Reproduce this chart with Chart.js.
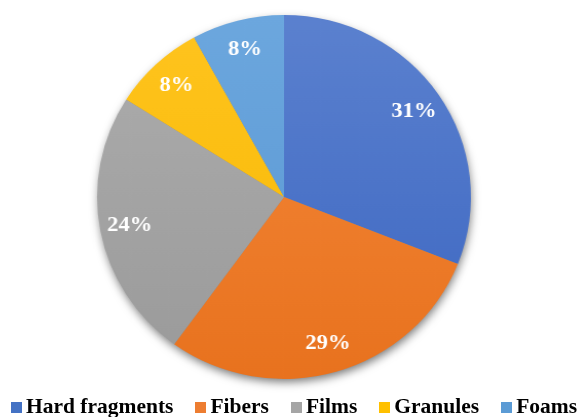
<!DOCTYPE html>
<html>
<head>
<meta charset="utf-8">
<script src="https://cdn.jsdelivr.net/npm/chart.js@4/dist/chart.umd.min.js"></script>
<style>
  html, body { margin: 0; padding: 0; background: #ffffff; }
  #wrap { position: relative; width: 578px; height: 417px; overflow: hidden; }
  #wrap canvas {
    position: absolute; left: 0; top: 0;
    transform: scaleX(1.027); transform-origin: 284px 197px;
  }
  #legend {
    position: absolute; left: 0; top: 394px; width: 588px;
    display: flex; justify-content: center; align-items: baseline;
    font-family: "Liberation Serif", "Times New Roman", serif;
    font-weight: bold; font-size: 21.5px; color: #000; white-space: nowrap;
  }
  .item { display: flex; align-items: baseline; margin: 0 11px; }
  .box { display: inline-block; width: 11px; height: 11px; margin-right: 4px; }
</style>
</head>
<body>
<div id="wrap">
  <canvas id="chart" width="578" height="417"></canvas>
  <div id="legend"></div>
</div>
<script>
// Share of each microplastic shape (%)
const categories = ['Hard fragments', 'Fibers', 'Films', 'Granules', 'Foams'];
const shares = [31, 29, 24, 8, 8];

// Flat colours (legend swatches) and top/bottom shades for the slices
const baseColors = ['#4472C4', '#ED7D31', '#A5A5A5', '#FFC000', '#5B9BD5'];
const topShades = ['#5b81cf', '#f5893b', '#adadad', '#ffc41f', '#6ca7de'];
const bottomShades = ['#3c66c1', '#e8721e', '#9a9a9a', '#f7b800', '#5896d2'];

function sliceFill(ctx) {
  const chart = ctx.chart;
  const area = chart.chartArea;
  const i = ctx.dataIndex;
  if (!area || i === undefined) return baseColors[i] || '#999';
  const g = chart.ctx.createLinearGradient(0, area.top, 0, area.bottom);
  g.addColorStop(0, topShades[i]);
  g.addColorStop(1, bottomShades[i]);
  return g;
}

// Soft drop shadow under the whole pie
const pieShadow = {
  id: 'pieShadow',
  beforeDatasetsDraw(chart) {
    const arc = chart.getDatasetMeta(0).data[0];
    if (!arc) return;
    const { x, y, outerRadius } = arc.getProps(['x', 'y', 'outerRadius'], true);
    const c = chart.ctx;
    c.save();
    c.shadowColor = 'rgba(0,0,0,0.55)';
    c.shadowBlur = 10;
    c.shadowOffsetX = 1;
    c.shadowOffsetY = 4;
    c.fillStyle = '#888';
    c.beginPath();
    c.arc(x, y, outerRadius - 1, 0, Math.PI * 2);
    c.fill();
    c.restore();
  }
};

// Percentage labels inside each slice
const sliceLabels = {
  id: 'sliceLabels',
  afterDatasetsDraw(chart) {
    const c = chart.ctx;
    const values = chart.data.datasets[0].data;
    c.save();
    c.font = 'bold 22px "Liberation Serif", "Times New Roman", serif';
    c.fillStyle = '#ffffff';
    c.textAlign = 'center';
    c.textBaseline = 'middle';
    chart.getDatasetMeta(0).data.forEach((arc, i) => {
      const p = arc.getProps(['x', 'y', 'startAngle', 'endAngle', 'outerRadius'], true);
      const mid = (p.startAngle + p.endAngle) / 2;
      const r = p.outerRadius * 0.84;
      c.fillText(values[i] + '%', p.x + Math.cos(mid) * r, p.y + Math.sin(mid) * r);
    });
    c.restore();
  }
};

const chart = new Chart(document.getElementById('chart'), {
  type: 'pie',
  data: {
    labels: categories,
    datasets: [{
      data: shares,
      backgroundColor: sliceFill,
      borderWidth: 0
    }]
  },
  options: {
    responsive: false,
    animation: false,
    layout: { padding: { top: 15, bottom: 38, left: 0, right: 10 } },
    plugins: {
      legend: { display: false },
      tooltip: { enabled: false }
    }
  },
  plugins: [pieShadow, sliceLabels]
});

// Legend row below the pie
const legend = document.getElementById('legend');
categories.forEach((name, i) => {
  const item = document.createElement('span');
  item.className = 'item';
  const box = document.createElement('span');
  box.className = 'box';
  box.style.background = baseColors[i];
  item.appendChild(box);
  item.appendChild(document.createTextNode(name));
  legend.appendChild(item);
});
</script>
</body>
</html>
